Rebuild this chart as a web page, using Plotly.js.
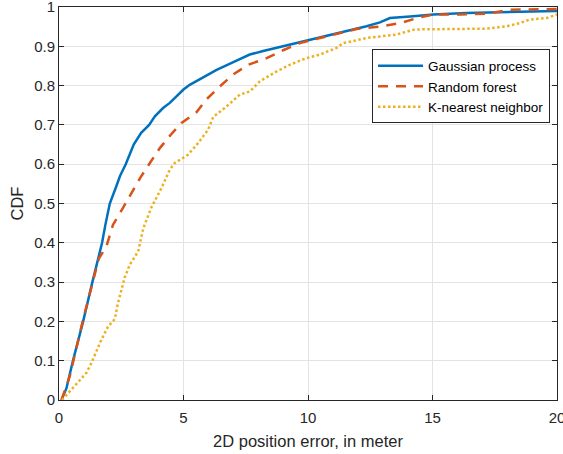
<!DOCTYPE html>
<html>
<head>
<meta charset="utf-8">
<script src="https://cdn.plot.ly/plotly-3.0.1.min.js"></script>
<style>html,body{margin:0;padding:0;background:#fff;}#chart{width:563px;height:454px;}</style>
</head>
<body>
<div id="chart"></div>
<script>
// Gaussian process
const gpX = [0.1, 0.3, 0.56, 0.97, 1.34, 1.61, 1.73, 1.86, 2.04, 2.28, 2.45, 2.68, 3.0, 3.3, 3.62, 3.85, 4.18, 4.45, 4.72, 5.0, 5.25, 5.8, 6.33, 7.0, 7.66, 8.2, 8.74, 9.54, 10.35, 11.28, 12.35, 12.89, 13.29, 14.1, 15.03, 16.37, 17.7, 20];
const gpY = [0, 0.03, 0.1, 0.2, 0.3, 0.374, 0.4, 0.445, 0.5, 0.54, 0.57, 0.6, 0.65, 0.68, 0.7, 0.722, 0.743, 0.756, 0.773, 0.79, 0.802, 0.822, 0.84, 0.86, 0.879, 0.888, 0.896, 0.908, 0.921, 0.934, 0.951, 0.961, 0.972, 0.976, 0.981, 0.985, 0.987, 0.99];
// Random forest
const rfX = [0.1, 0.43, 0.95, 1.34, 1.6, 1.9, 2.17, 2.57, 2.91, 3.28, 3.65, 4.05, 4.49, 4.92, 5.52, 5.92, 6.46, 6.99, 7.6, 8.34, 9.0, 9.67, 10.48, 11.28, 11.95, 12.89, 13.69, 14.5, 15.03, 16.1, 17.2, 18.1, 19.0, 20];
const rfY = [0, 0.06, 0.2, 0.3, 0.36, 0.39, 0.446, 0.489, 0.528, 0.567, 0.603, 0.641, 0.675, 0.705, 0.732, 0.765, 0.798, 0.828, 0.853, 0.87, 0.89, 0.908, 0.921, 0.934, 0.944, 0.95, 0.959, 0.974, 0.981, 0.981, 0.983, 0.993, 0.994, 0.995];
// K-nearest neighbor
const knnX = [0.12, 0.43, 0.76, 1.1, 1.3, 1.5, 1.7, 1.97, 2.24, 2.37, 2.5, 2.64, 2.84, 2.97, 3.18, 3.38, 3.71, 4.12, 4.45, 4.65, 5.18, 5.59, 5.99, 6.19, 6.73, 7.26, 7.66, 8.07, 8.74, 9.27, 9.94, 10.48, 11.15, 11.41, 12.35, 13.56, 14.23, 14.5, 17.18, 17.98, 18.5, 18.9, 19.6, 20];
const knnY = [0, 0.022, 0.043, 0.069, 0.094, 0.124, 0.153, 0.187, 0.206, 0.247, 0.281, 0.312, 0.344, 0.357, 0.378, 0.436, 0.49, 0.54, 0.586, 0.603, 0.624, 0.654, 0.688, 0.72, 0.747, 0.777, 0.785, 0.811, 0.836, 0.853, 0.87, 0.879, 0.896, 0.908, 0.921, 0.93, 0.942, 0.943, 0.945, 0.951, 0.959, 0.968, 0.972, 0.981];

const names = ['Gaussian process', 'Random forest', 'K-nearest neighbor'];
const colors = ['#0072BD', '#D95319', '#EDB120'];
const xTicks = [0, 5, 10, 15, 20];
const yTicks = [0, 0.1, 0.2, 0.3, 0.4, 0.5, 0.6, 0.7, 0.8, 0.9, 1];
const yTickText = ['0', '0.1', '0.2', '0.3', '0.4', '0.5', '0.6', '0.7', '0.8', '0.9', '1'];

const traces = [
  {x: gpX, y: gpY, name: names[0], mode: 'lines', line: {color: colors[0], width: 2.5}},
  {x: rfX, y: rfY, name: names[1], mode: 'lines', line: {color: colors[1], width: 2.5, dash: '10px,8px'}},
  {x: knnX, y: knnY, name: names[2], mode: 'lines', line: {color: colors[2], width: 2.5, dash: '2.5px,2.5px'}}
];

const axisCommon = {
  showline: true, linecolor: '#262626', linewidth: 1, mirror: 'ticks',
  ticks: 'inside', ticklen: 5, tickcolor: '#262626', tickwidth: 1,
  showgrid: true, gridcolor: '#e3e3e3', gridwidth: 1, zeroline: false,
  ticklabeloverflow: 'allow',
  tickfont: {family: '"Liberation Sans", Arial, sans-serif', size: 15, color: '#262626'}
};

const layout = {
  width: 563, height: 454,
  margin: {l: 59, r: 6, t: 7, b: 54},
  paper_bgcolor: '#ffffff', plot_bgcolor: '#ffffff',
  font: {family: '"Liberation Sans", Arial, sans-serif', color: '#262626'},
  showlegend: true,
  xaxis: Object.assign({}, axisCommon, {
    range: [0, 20], tickmode: 'array', tickvals: xTicks, ticktext: xTicks.map(String),
    ticklabelstandoff: 4,
    title: {text: '2D position error, in meter', font: {size: 16.5, color: '#262626'}, standoff: 10}
  }),
  yaxis: Object.assign({}, axisCommon, {
    range: [0, 1], tickmode: 'array', tickvals: yTicks, ticktext: yTickText,
    title: {text: 'CDF', font: {size: 16.5, color: '#262626'}, standoff: 6}
  }),
  legend: {
    x: 0.986, y: 0.892, xanchor: 'right', yanchor: 'top',
    bgcolor: '#ffffff', bordercolor: '#262626', borderwidth: 1,
    font: {size: 13.5, color: '#000000'}, tracegroupgap: 0, itemwidth: 45
  }
};

Plotly.newPlot('chart', traces, layout, {staticPlot: true, displayModeBar: false});
</script>
</body>
</html>
